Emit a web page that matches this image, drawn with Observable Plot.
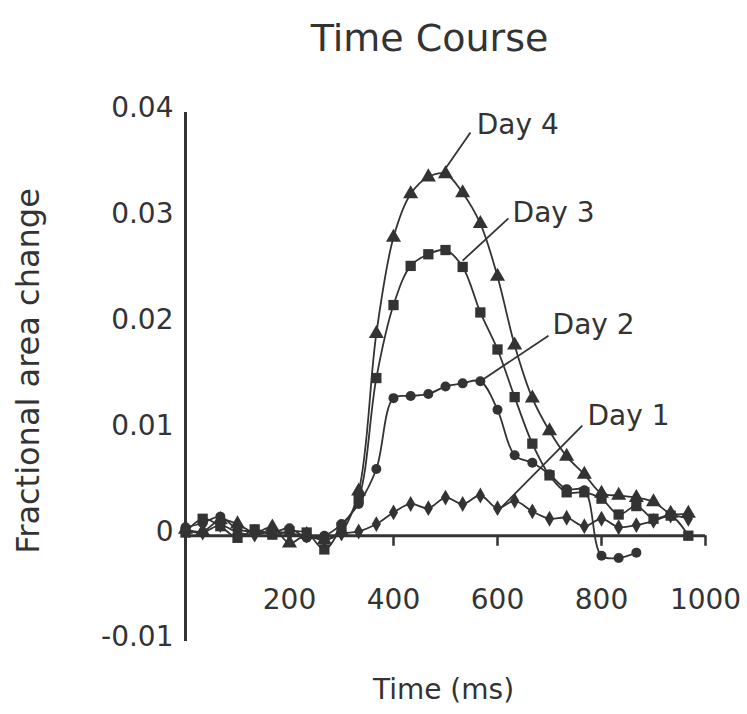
<!DOCTYPE html>
<html>
<head>
<meta charset="utf-8">
<script src="https://cdn.jsdelivr.net/npm/d3@7"></script>
<script src="https://cdn.jsdelivr.net/npm/@observablehq/plot@0.6"></script>
<style>
  html, body { margin: 0; padding: 0; background: #fff; }
  #chart svg { display: block; }
</style>
</head>
<body>
<div id="chart"></div>
<script>
// ---- data ----
const times = [0, 33, 67, 100, 133, 167, 200, 233, 267, 300, 333, 367, 400, 433, 467,
               500, 533, 567, 600, 633, 667, 700, 733, 767, 800, 833, 867, 900, 933, 967];

const day1 = [0.0005, 0.0003, 0.0010, 0.0003, 0.0001, 0.0004, 0.0002, 0.0000, -0.0004, 0.0002,
              0.0004, 0.0011, 0.0022, 0.0030, 0.0026, 0.0036, 0.0030, 0.0038, 0.0026, 0.0033,
              0.0023, 0.0016, 0.0017, 0.0009, 0.0016, 0.0008, 0.0010, 0.0014, 0.0019, 0.0016];

const day2 = [0.0008, 0.0012, 0.0018, 0.0006, 0.0004, 0.0003, 0.0007, -0.0002, 0.0000, 0.0011,
              0.0030, 0.0063, 0.0130, 0.0132, 0.0134, 0.0141, 0.0144, 0.0146, 0.0119, 0.0076,
              0.0069, 0.0058, 0.0044, 0.0043, -0.0019, -0.0021, -0.0016];

const day3 = [0.0003, 0.0016, 0.0009, -0.0002, 0.0006, 0.0001, 0.0004, 0.0003, -0.0013, 0.0008,
              0.0035, 0.0149, 0.0218, 0.0255, 0.0266, 0.0270, 0.0254, 0.0211, 0.0176, 0.0131,
              0.0087, 0.0057, 0.0041, 0.0041, 0.0035, 0.0020, 0.0028, 0.0016, 0.0019, 0.0000];

const day4 = [0.0006, 0.0004, 0.0015, 0.0011, 0.0003, 0.0008, -0.0007, 0.0001, -0.0004, 0.0004,
              0.0042, 0.0191, 0.0282, 0.0323, 0.0339, 0.0342, 0.0324, 0.0295, 0.0245, 0.0180,
              0.0130, 0.0099, 0.0075, 0.0058, 0.0040, 0.0038, 0.0036, 0.0032, 0.0021, 0.0021];

const seriesNames = ["Day 1", "Day 2", "Day 3", "Day 4"];
const seriesValues = [day1, day2, day3, day4];

const xTicks = [200, 400, 600, 800, 1000];
const yTicks = [-0.01, 0, 0.01, 0.02, 0.03, 0.04];
const yTickLabels = ["-0.01", "0", "0.01", "0.02", "0.03", "0.04"];

const titleText = "Time Course";
const xLabel = "Time (ms)";
const yLabel = "Fractional area change";

// callout labels (data units: ms, fraction)
const calloutLabels = ["Day 4", "Day 3", "Day 2", "Day 1"];
const calloutFromX = [500, 533, 567, 606];
const calloutFromY = [0.0347, 0.0260, 0.0146, 0.0026];
const calloutToX   = [548, 621, 698, 763];
const calloutToY   = [0.0381, 0.0300, 0.0189, 0.0104];
const calloutTextX = [560, 629, 706, 773];
const calloutTextY = [0.0388, 0.0305, 0.0199, 0.0113];

// ---- build tables ----
const rows = seriesNames.flatMap((name, s) =>
  seriesValues[s].map((v, i) => ({series: name, t: times[i], v})));

const callouts = calloutLabels.map((label, i) => ({
  label, x1: calloutFromX[i], y1: calloutFromY[i], x2: calloutToX[i], y2: calloutToY[i],
  tx: calloutTextX[i], ty: calloutTextY[i]
}));

const markerSize = {"Day 1": 4.8, "Day 2": 5.0, "Day 3": 5.8, "Day 4": 5.6};
const ink = "#333";

const chart = Plot.plot({
  width: 747,
  height: 714,
  marginLeft: 185,
  marginRight: 42,
  marginTop: 112,
  marginBottom: 73,
  x: {domain: [0, 1000], axis: null},
  y: {domain: [-0.01, 0.04], axis: null},
  r: {type: "identity"},
  symbol: {domain: seriesNames, range: ["diamond", "circle", "square", "triangle"]},
  style: {fontFamily: "'DejaVu Sans', Verdana, sans-serif", background: "#fff", color: ink},
  marks: [
    // axes lines
    Plot.ruleY([0], {x1: 0, x2: 1000, stroke: ink, strokeWidth: 3}),
    Plot.ruleX([0], {y1: -0.01, y2: 0.04, stroke: ink, strokeWidth: 3}),
    Plot.ruleX(xTicks, {x: d => d, y1: 0, y2: -0.001, stroke: ink, strokeWidth: 2.5}),
    // tick labels
    Plot.text(xTicks, {x: d => d, frameAnchor: "bottom", dy: -41, text: d => String(d),
      fontSize: 28, fill: ink, lineAnchor: "middle"}),
    Plot.text(yTicks, {y: d => d, frameAnchor: "left", dx: -12, dy: -4,
      text: (d, i) => yTickLabels[i], textAnchor: "end", fontSize: 28, fill: ink, lineAnchor: "middle"}),
    // series
    Plot.line(rows, {x: "t", y: "v", z: "series", stroke: ink, strokeWidth: 1.8, curve: "catmull-rom"}),
    Plot.dot(rows, {x: "t", y: "v", symbol: "series", r: d => markerSize[d.series], fill: ink, stroke: "none"}),
    // callouts
    Plot.link(callouts, {x1: "x1", y1: "y1", x2: "x2", y2: "y2", stroke: ink, strokeWidth: 1.8}),
    Plot.text(callouts, {x: "tx", y: "ty", text: "label", textAnchor: "start", lineAnchor: "middle",
      fontSize: 28, fill: ink}),
    // titles
    Plot.text([titleText], {frameAnchor: "top", dy: -74, dx: -16, fontSize: 38, fill: ink,
      textAnchor: "middle", lineAnchor: "middle"}),
    Plot.text([xLabel], {frameAnchor: "bottom", dy: 49, dx: -2, fontSize: 28, fill: ink,
      textAnchor: "middle", lineAnchor: "middle"}),
    Plot.text([yLabel], {frameAnchor: "left", dx: -157, dy: -6, rotate: -90, fontSize: 32, fill: ink,
      textAnchor: "middle", lineAnchor: "middle"})
  ]
});

document.getElementById("chart").appendChild(chart);
</script>
</body>
</html>
